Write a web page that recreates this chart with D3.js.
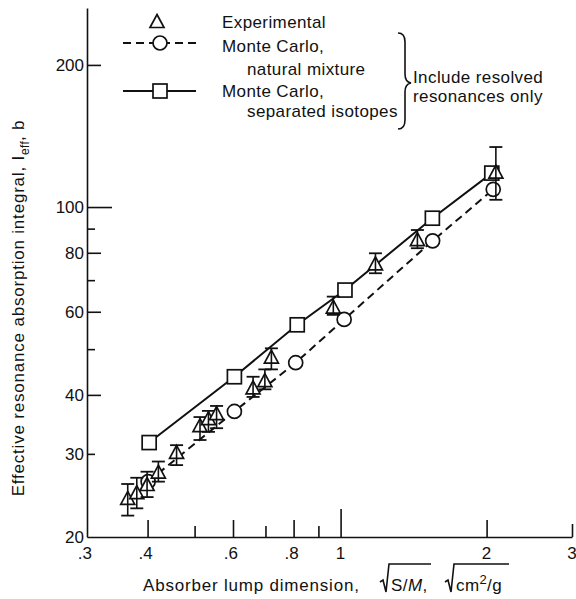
<!DOCTYPE html>
<html>
<head>
<meta charset="utf-8">
<script src="https://cdn.jsdelivr.net/npm/d3@7/dist/d3.min.js"></script>
<style>
body { margin: 0; background: #fff; }
text { font-family: "Liberation Sans", Arial, sans-serif; font-size: 17px; fill: #111; }
</style>
</head>
<body>
<svg id="chart" width="576" height="599"></svg>
<script>
// tick values and labels
var xTickValues = [0.4, 0.5, 0.6, 0.7, 0.8, 0.9, 1, 2, 3];
var xLabelValues = [0.3, 0.4, 0.6, 0.8, 1, 2, 3];
var xLabels = [".3", ".4", ".6", ".8", "1", "2", "3"];
var yTickValues = [30, 40, 50, 60, 70, 80, 90, 100, 200];
var yLabelValues = [20, 30, 40, 60, 80, 100, 200];
var yLabels = ["20", "30", "40", "60", "80", "100", "200"];

// Monte Carlo, separated isotopes (squares, solid line)
var sepX = [0.403, 0.604, 0.814, 1.021, 1.546, 2.05];
var sepY = [31.7, 43.7, 56.3, 66.7, 94.7, 118];

// Monte Carlo, natural mixture (circles, dashed line)
var natX = [0.401, 0.604, 0.808, 1.017, 1.548, 2.064];
var natY = [26.2, 36.9, 46.8, 57.8, 84.8, 109];

// Experimental (triangles with error bars)
var expX = [0.364, 0.380, 0.399, 0.421, 0.459, 0.513, 0.534, 0.555, 0.660, 0.698, 0.720, 0.966, 1.18, 1.44, 2.09];
var expY = [24.2, 24.9, 25.9, 27.5, 30.3, 34.5, 35.7, 36.6, 41.5, 43.0, 48.2, 61.5, 76.0, 85.5, 118.9];
var expLo = [22.2, 23.0, 24.3, 26.2, 28.4, 32.1, 33.4, 34.0, 39.6, 41.1, 45.3, 59.1, 72.4, 81.8, 103.6];
var expHi = [25.9, 26.7, 27.5, 28.9, 31.3, 35.9, 37.0, 37.9, 43.7, 45.3, 50.2, 64.6, 79.8, 89.4, 134];

var legendLabels = ["Experimental", "Monte Carlo,", "natural mixture", "Monte Carlo,", "separated isotopes"];
var noteLabels = ["Include resolved", "resonances only"];

var svg = d3.select("#chart");

// log-log scales
var x = d3.scaleLog().domain([0.3, 3]).range([87, 572]);
var y = d3.scaleLog().domain([20, 264]).range([537, 8]);

// tick length depends on the value (major/minor)
function xTickLen(v) {
    if (v == 1) return 28;
    if (v == 3) return 13;
    if (v == 0.5 || v == 0.7 || v == 0.9) return 11;
    return 17;
}
function yTickLen(v) {
    if (v == 100) return 25;
    if (v == 30 || v == 50 || v == 70 || v == 90) return 8;
    return 14;
}

// x axis: ticks pointing inward
var gx = svg.append("g")
    .attr("transform", "translate(0," + y(20) + ")")
    .call(d3.axisBottom(x).tickValues(xTickValues).tickSizeOuter(0).tickSizeInner(-17).tickFormat(""));
gx.selectAll(".tick line").attr("y2", d => -xTickLen(d)).attr("stroke", "#111").attr("stroke-width", 1.6);
gx.select(".domain").attr("stroke", "#111").attr("stroke-width", 1.6);

// x labels, digit centred on the tick
svg.append("g").selectAll("text")
    .data(xLabelValues)
    .enter()
    .append("text")
    .attr("x", d => d < 1 ? x(d) + 5 : x(d))
    .attr("y", 559)
    .attr("text-anchor", d => d < 1 ? "end" : "middle")
    .text((d, i) => xLabels[i]);

// y axis
var gy = svg.append("g")
    .attr("transform", "translate(" + x(0.3) + ",0)")
    .call(d3.axisLeft(y).tickValues(yTickValues).tickSizeOuter(0).tickSizeInner(-14).tickFormat(""));
gy.selectAll(".tick line").attr("x2", d => yTickLen(d)).attr("stroke", "#111").attr("stroke-width", 1.6);
gy.select(".domain").attr("stroke", "#111").attr("stroke-width", 1.6);

svg.append("g").selectAll("text")
    .data(yLabelValues)
    .enter()
    .append("text")
    .attr("x", 84)
    .attr("y", d => y(d))
    .attr("dy", "0.35em")
    .attr("text-anchor", "end")
    .text((d, i) => yLabels[i]);

// lines
var sepData = sepX.map((v, i) => [v, sepY[i]]);
var natData = natX.map((v, i) => [v, natY[i]]);
var line = d3.line().x(d => x(d[0])).y(d => y(d[1]));

svg.append("path").datum(natData)
    .attr("d", line).attr("fill", "none").attr("stroke", "#111")
    .attr("stroke-width", 2).attr("stroke-dasharray", "8,5");
svg.append("path").datum(sepData)
    .attr("d", line).attr("fill", "none").attr("stroke", "#111")
    .attr("stroke-width", 2);

// symbols
var triPath = "M0,-6.5L7,6.5L-7,6.5Z";
function drawCircle(g, cx, cy) {
    g.append("circle").attr("cx", cx).attr("cy", cy).attr("r", 7)
        .attr("fill", "#fff").attr("stroke", "#111").attr("stroke-width", 1.7);
}
function drawSquare(g, cx, cy) {
    g.append("rect").attr("x", cx - 7).attr("y", cy - 7).attr("width", 14).attr("height", 14)
        .attr("fill", "#fff").attr("stroke", "#111").attr("stroke-width", 1.7);
}
function drawTri(g, cx, cy) {
    g.append("path").attr("d", triPath).attr("transform", "translate(" + cx + "," + cy + ")")
        .attr("fill", "#fff").attr("stroke", "#111").attr("stroke-width", 1.7).attr("stroke-linejoin", "miter");
}

var marks = svg.append("g");
natData.forEach(d => drawCircle(marks, x(d[0]), y(d[1])));
sepData.forEach(d => drawSquare(marks, x(d[0]), y(d[1])));

// experimental points with error bars
var expG = svg.append("g");
expX.forEach(function(v, i) {
    var cx = x(v);
    drawTri(expG, cx, y(expY[i]));
    expG.append("line").attr("x1", cx).attr("x2", cx).attr("y1", y(expLo[i])).attr("y2", y(expHi[i]))
        .attr("stroke", "#111").attr("stroke-width", 1.6);
    [expLo[i], expHi[i]].forEach(function(e) {
        expG.append("line").attr("x1", cx - 6.5).attr("x2", cx + 6.5).attr("y1", y(e)).attr("y2", y(e))
            .attr("stroke", "#111").attr("stroke-width", 1.8);
    });
});

// legend
var lg = svg.append("g");
drawTri(lg, 157, 21);
lg.append("line").attr("x1", 123).attr("x2", 196).attr("y1", 43).attr("y2", 43)
    .attr("stroke", "#111").attr("stroke-width", 2).attr("stroke-dasharray", "8,5");
drawCircle(lg, 160, 43);
lg.append("line").attr("x1", 123).attr("x2", 196).attr("y1", 91).attr("y2", 91)
    .attr("stroke", "#111").attr("stroke-width", 2);
drawSquare(lg, 160, 91);

var legendPos = [[222, 22], [222, 46], [247, 69], [222, 91], [247, 111]];
lg.selectAll("text.leg")
    .data(legendLabels)
    .enter()
    .append("text")
    .attr("class", "leg")
    .attr("x", (d, i) => legendPos[i][0])
    .attr("y", (d, i) => legendPos[i][1])
    .attr("dy", "0.35em")
    .attr("letter-spacing", 0.4)
    .text(d => d);

// brace
lg.append("path")
    .attr("d", "M398,33 Q405,33 405,42 L405,74 Q405,82 411,83 Q405,84 405,92 L405,120 Q405,129 398,129")
    .attr("fill", "none").attr("stroke", "#111").attr("stroke-width", 1.6);

lg.selectAll("text.note")
    .data(noteLabels)
    .enter()
    .append("text")
    .attr("class", "note")
    .attr("x", 413)
    .attr("y", (d, i) => 77 + i * 19)
    .attr("dy", "0.35em")
    .attr("letter-spacing", 0.4)
    .text(d => d);

// y axis title with subscript
var yt = svg.append("text")
    .attr("transform", "translate(24,308) rotate(-90)")
    .attr("text-anchor", "middle")
    .attr("letter-spacing", 0.8);
yt.append("tspan").text("Effective resonance absorption integral, I");
yt.append("tspan").attr("dy", 5).attr("font-size", 12).attr("letter-spacing", 0.3).text("eff");
yt.append("tspan").attr("dy", -5).text(", b");

// x axis title with radicals
var xt = svg.append("g");
var base = 591;
var t1 = xt.append("text").attr("x", 143).attr("y", base).attr("letter-spacing", 0.8)
    .text("Absorber lump dimension,");

function radical(x0, x1) {
    // check mark plus overline over the radicand
    xt.append("path")
        .attr("d", "M" + x0 + "," + (base - 9) + " L" + (x0 + 3) + "," + (base - 11) +
            " L" + (x0 + 6) + "," + (base + 1) + " L" + (x0 + 9) + "," + (base - 27) + " L" + x1 + "," + (base - 27))
        .attr("fill", "none").attr("stroke", "#111").attr("stroke-width", 1.6);
}

var t2 = xt.append("text").attr("x", 391).attr("y", base).attr("letter-spacing", 0.4);
t2.append("tspan").text("S/");
t2.append("tspan").attr("font-style", "italic").text("M");
t2.append("tspan").text(",");
radical(380, 431);

var t3 = xt.append("text").attr("x", 456).attr("y", base).attr("letter-spacing", 0.4);
t3.append("tspan").text("cm");
t3.append("tspan").attr("dy", -7).attr("font-size", 13).text("2");
t3.append("tspan").attr("dy", 7).text("/g");
radical(445, 509);
</script>
</body>
</html>
